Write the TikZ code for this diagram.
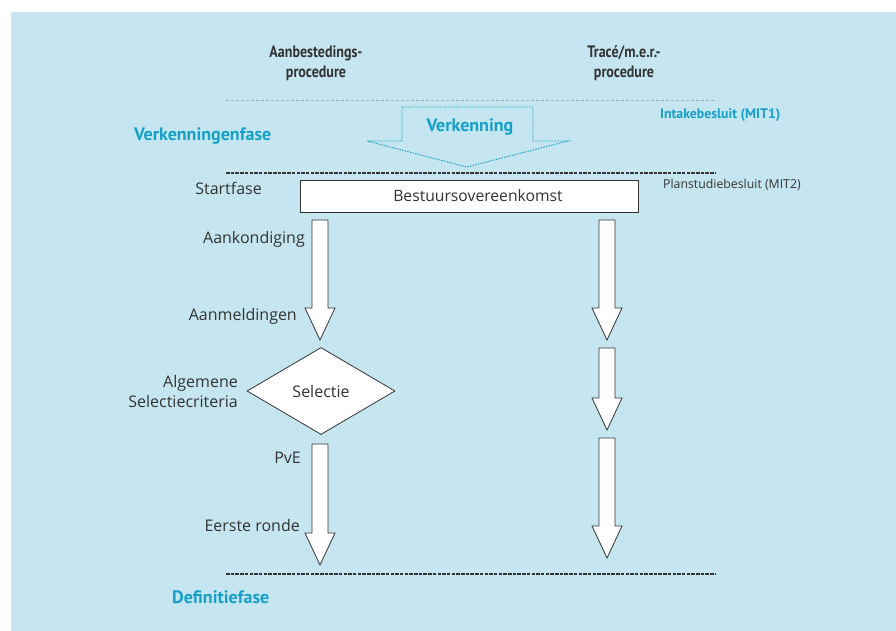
\documentclass[tikz,border=0pt]{standalone}
\usepackage{fontspec}
\setmainfont{Open Sans}
\newfontfamily\narrowbold[FakeStretch=0.85]{PT Sans}
\newfontfamily\accentfont{PT Sans}
\usetikzlibrary{calc,shapes.geometric}
\definecolor{panel}{RGB}{197,230,240}
\definecolor{ink}{RGB}{51,51,51}
\definecolor{accent}{RGB}{20,160,200}
\definecolor{rule}{RGB}{160,170,175}
\tikzset{
  lbl/.style={text=ink,font=\fontsize{16}{20}\selectfont,inner sep=0pt},
  head/.style={text=ink,font=\narrowbold\bfseries\fontsize{16.5}{20}\selectfont,align=center,inner sep=0pt},
  phase/.style={text=accent,font=\accentfont\bfseries\fontsize{18}{20}\selectfont,inner sep=0pt},
  decision/.style={text=accent,font=\accentfont\bfseries\fontsize{13.8}{15}\selectfont,inner sep=0pt},
  note/.style={text=ink,font=\fontsize{12.3}{14}\selectfont,inner sep=0pt},
  phaseline/.style={draw=ink,line width=1.3pt,dash pattern=on 3.5pt off 1.2pt},
  faintline/.style={draw=rule,line width=0.6pt,dash pattern=on 3pt off 2pt},
  stepbox/.style={draw=ink,fill=white,line width=0.8pt,text=ink,
    font=\fontsize{15.7}{17}\selectfont,minimum width=338pt,minimum height=32pt,inner sep=0pt},
  choice/.style={diamond,draw=ink,fill=white,line width=0.8pt,text=ink,
    font=\fontsize{16}{18}\selectfont,minimum width=148pt,minimum height=87pt,
    inner sep=0pt,aspect=1.7},
  flowarrow/.style={draw=ink,fill=white,line width=0.8pt,line join=miter},
  ghostarrow/.style={draw=accent,line width=0.9pt,dash pattern=on 1.5pt off 1.2pt}
}
% block arrow from a top coordinate down to a tip coordinate
\newcommand\blockarrow[2]{%
  \draw[flowarrow] ($(#1)+(-8,0)$) -- ($(#2)+(-8,-32)$) -- ($(#2)+(-15,-32)$)
    -- (#2) -- ($(#2)+(15,-32)$) -- ($(#2)+(8,-32)$) -- ($(#1)+(8,0)$) -- cycle;}
\begin{document}
\begin{tikzpicture}[x=1pt,y=-1pt]
\useasboundingbox (0,0) rectangle (896,631);
\fill[panel] (11,12) rectangle (896,631);

% column headings
\node[head] (hA) at (316,63) {Aanbestedings-\\procedure};
\node[head] (hB) at (624,63) {Tracé/m.e.r.-\\procedure};

% phase separators
\coordinate (r0a) at (226,100); \coordinate (r0b) at (716,100);
\draw[faintline] (r0a) -- (r0b);
\coordinate (r1a) at (226,173); \coordinate (r1b) at (716,173);
\draw[phaseline] (r1a) -- (r1b);
\coordinate (r2a) at (226,574); \coordinate (r2b) at (716,574);
\draw[phaseline] (r2a) -- (r2b);

% exploration phase
\node[phase,anchor=west] (fase1) at (134,136) {Verkenningenfase};
\node[decision,anchor=west] (mit1) at (660,115) {Intakebesluit (MIT1)};
\coordinate (v1) at (402,107); \coordinate (v2) at (533,107);
\coordinate (v3) at (533,141); \coordinate (v4) at (568,141);
\coordinate (v5) at (467,167); \coordinate (v6) at (367,141);
\coordinate (v7) at (402,141);
\draw[ghostarrow] (v1) -- (v2) -- (v3) -- (v4) -- (v5) -- (v6) -- (v7) -- cycle;
\node[phase] (verk) at (470,127) {Verkenning};

% start phase
\node[stepbox] (bok) at (469,196) {\hspace*{18pt}Bestuursovereenkomst};
\node[note,anchor=west] (mit2) at (663,185) {Planstudiebesluit (MIT2)};
\node[lbl,anchor=east] (start) at (262,188) {Startfase};

% procurement column
\coordinate (a1t) at (320,220); \coordinate (a1p) at (320,340);
\blockarrow{a1t}{a1p}
\node[lbl,anchor=east] (aank) at (305,239) {Aankondiging};
\node[lbl,anchor=east] (aanm) at (297,316) {Aanmeldingen};
\node[choice] (sel) at (321,391) {Selectie};
\node[lbl,anchor=east,align=right] (crit) at (238,391) {Algemene\\Selectiecriteria};
\coordinate (a2t) at (320,444); \coordinate (a2p) at (320,565);
\blockarrow{a2t}{a2p}
\node[lbl,anchor=east] (pve) at (301,458) {PvE};
\node[lbl,anchor=east] (ronde) at (300,525) {Eerste ronde};

% route planning column
\coordinate (b1t) at (607,220); \coordinate (b1p) at (607,340);
\blockarrow{b1t}{b1p}
\coordinate (b2t) at (607,348); \coordinate (b2p) at (607,430);
\blockarrow{b2t}{b2p}
\coordinate (b3t) at (607,438); \coordinate (b3p) at (607,558);
\blockarrow{b3t}{b3p}

% definition phase
\node[phase,anchor=west] (fase2) at (172,597) {Definitiefase};
\end{tikzpicture}
\end{document}
